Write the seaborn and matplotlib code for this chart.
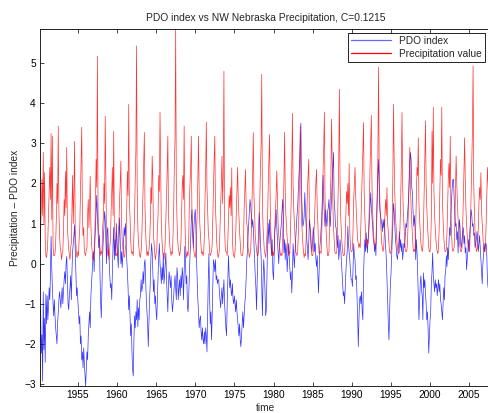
import numpy as np
import pandas as pd
import matplotlib
matplotlib.use("Agg")
import matplotlib.pyplot as plt
from matplotlib.lines import Line2D
import seaborn as sns

# monthly series, first row is 1950 (Mar-Dec), then one row per year up to 2007
start_year = 1950
start_month = 3

pdo_rows = [
    [-1.13, -1.2, -2.23, -1.77, -2.93, -0.7, -2.14, -1.36, -2.46, -0.76],
    [-1.5, -0.8, -1.4, -1.1, -0.6, -0.9, -0.3, 0.68, -0.1, -0.6, -1.0, -1.3],
    [-0.9, -1.3, -1.6, -1.8, -2.0, -1.5, -1.2, -0.9, -0.7, -0.9, -1.1, -0.8],
    [-0.6, -1.0, -0.7, -0.4, -0.2, -0.5, 0.0, 0.18, -0.4, -1.0, -1.15, -0.8],
    [-0.6, -0.3, -0.9, -0.2, 0.3, 0.5, 0.7, 0.97, 0.4, -0.2, -0.8, -0.6],
    [-0.9, -1.2, -1.5, -1.3, -2.0, -1.8, -2.4, -2.2, -2.6, -2.1, -2.5, -2.8],
    [-3.05, -2.6, -2.2, -2.4, -1.8, -1.5, -1.2, -1.6, -0.8, -0.5, -0.2, 0.1],
    [0.3, -0.2, 0.5, 0.9, 1.3, 1.7, 1.2, 0.8, 0.4, 0.7, -0.3, -1.0],
    [-1.35, -0.6, 0.2, 0.6, 0.9, 1.3, 1.1, 0.6, 0.0, 0.8, 0.9, 0.3],
    [0.1, -0.3, -0.6, -0.5, -0.9, -0.2, 0.5, 0.9, 0.1, 0.6, 0.2, 1.0],
    [0.5, 0.2, -0.1, 0.6, 1.14, 0.6, 0.0, 0.3, -0.1, 0.2, 0.5, 0.9],
    [0.7, 1.0, 0.5, 0.1, -0.2, -0.6, -1.15, -0.8, -1.3, -1.8, -1.5, -2.2],
    [-2.65, -2.8, -1.9, -1.3, -1.6, -1.2, -1.4, -0.9, -1.57, -1.1, -1.4, -0.9],
    [-0.8, -0.4, -0.7, -0.6, -0.2, -0.5, 0.0, 0.1, -0.4, -0.9, -1.2, -1.5],
    [-2.07, -1.5, -0.9, -0.5, 0.1, 0.5, 0.3, -0.2, -0.7, -0.4, -1.0, -0.8],
    [-1.2, -1.4, -0.8, -0.3, 0.2, 0.5, 0.0, -0.2, -0.5, -0.1, -0.4, 0.27],
    [-0.5, -0.3, 0.0, 0.27, -0.4, -0.8, -1.2, -0.5, -0.2, -0.4, -0.6, -0.3],
    [-0.9, -1.2, -1.0, -0.8, -0.5, -0.3, -0.6, -0.9, -0.1, -0.3, -0.9, -0.6],
    [-0.4, -0.8, -0.3, -0.6, -0.1, -0.3, -0.9, -0.2, 0.43, 0.1, -0.5, -0.3],
    [-1.07, -1.2, -0.8, -0.3, 0.2, 0.6, 1.1, 1.35, 0.8, 0.4, 0.9, 1.2],
    [1.35, 0.9, 0.1, -0.4, -0.9, -1.2, -1.6, -1.4, -1.3, -1.7, -1.9, -1.6],
    [-1.9, -2.0, -1.7, -2.0, -1.6, -1.8, -2.2, -1.3, -0.4, 0.25, -0.8, -1.5],
    [-1.2, -1.9, -1.3, -0.5, 0.1, 0.0, -0.2, 0.1, -0.4, -0.3, -0.5, -0.4],
    [-0.4, -0.7, -0.9, -1.1, -0.8, -0.6, -1.0, -0.7, -0.4, -1.0, -1.3, -1.6],
    [-1.8, -1.0, -0.4, 0.2, -0.3, -0.6, -0.4, -0.7, -0.8, -0.5, -0.9, -1.0],
    [-0.8, -1.0, -1.2, -0.9, -1.2, -1.4, -1.6, -1.8, -1.5, -1.9, -2.07, -1.8],
    [-1.5, -1.2, -1.6, -1.3, -1.0, -0.8, -0.4, 0.1, 0.3, 0.7, 1.0, 1.3],
    [1.6, 1.45, 1.2, 0.9, 1.1, 0.93, 0.5, 0.1, -0.3, -0.6, -1.15, -0.4],
    [0.3, 0.8, 1.27, 1.0, 0.5, 0.2, -0.5, -1.3, -0.4, 0.1, -0.2, -0.7],
    [-1.3, -1.15, -0.3, 0.6, 1.0, 0.5, 1.1, 0.7, 0.5, 0.2, 0.6, -0.2],
    [-0.4, 0.2, 0.8, 1.0, 1.35, 0.93, 0.6, 0.3, 0.0, 0.4, 0.6, 0.8],
    [1.0, 1.3, 1.6, 1.2, 0.27, 0.6, 0.1, 0.5, 0.3, -0.2, 0.2, 0.5],
    [0.2, -0.1, -0.4, -0.2, -0.73, -0.3, 0.5, 0.2, -0.1, 0.3, 0.6, 0.9],
    [1.2, 1.4, 1.8, 2.2, 2.5, 3.0, 3.5, 1.77, 1.3, 0.93, 1.0, 1.2],
    [1.77, 1.3, 0.93, 0.6, 0.4, 0.1, 0.5, 1.1, 0.9, 0.77, 0.4, 0.3],
    [0.6, 0.9, 0.7, 0.3, 0.5, 0.1, -0.07, 0.2, -0.3, -0.73, -0.2, 0.4],
    [0.6, 0.9, 1.18, 1.7, 2.2, 1.6, 1.2, 0.93, 1.35, 1.1, 0.93, 1.3],
    [1.4, 1.6, 1.2, 0.93, 1.3, 1.6, 2.1, 2.4, 2.77, 1.6, 1.35, 0.93],
    [0.9, 0.6, 0.4, 0.7, 0.1, 0.3, 0.6, 0.4, 0.1, -0.2, -0.5, -0.8],
    [-0.7, -1.0, -0.6, -0.2, 0.1, 0.3, 0.93, 0.5, 0.27, 0.1, -0.2, -0.4],
    [-0.4, -0.57, -0.1, 0.5, 0.2, 0.1, -0.4, -0.3, -0.8, -1.3, -2.07, -1.4],
    [-0.9, -0.8, -1.0, -0.7, -1.2, -1.4, -0.3, 0.2, 0.6, 0.3, 0.77, 0.5],
    [0.27, 0.6, 0.77, 1.1, 1.4, 1.77, 1.4, 1.18, 0.93, 0.6, 0.5, 0.3],
    [0.5, 0.2, 0.9, 1.5, 2.2, 2.6, 1.9, 1.35, 1.2, 1.1, 1.0, 0.8],
    [1.1, 0.9, 1.1, 0.7, 0.4, 0.1, -0.4, -0.9, -1.5, -1.9, -1.2, -0.6],
    [-0.3, 0.1, 0.6, 1.0, 1.5, 1.3, 0.93, 0.6, 0.43, 0.2, 0.1, 0.3],
    [0.5, 0.8, 0.4, 0.6, 0.3, 0.5, 0.1, 0.3, 0.5, 0.4, 0.7, 1.0],
    [0.9, 1.1, 1.35, 1.6, 2.0, 2.5, 2.77, 2.6, 1.9, 1.77, 1.3, 0.93],
    [1.2, 0.93, 0.1, 0.6, 0.3, -0.2, -0.8, -1.4, -0.9, -0.5, -0.3, -0.65],
    [-0.8, -1.4, -0.23, -0.6, -0.4, -0.73, -1.0, -1.4, -1.2, -1.6, -2.23, -1.8],
    [-1.4, -1.2, -0.5, -0.2, 0.27, -0.3, -0.5, -0.7, -0.4, -0.6, -0.5, -0.8],
    [-0.6, -0.4, -0.7, -0.5, -0.9, -1.0, -1.2, -1.4, -1.0, -0.6, -0.9, -0.3],
    [-0.2, 0.2, -0.07, 0.4, 0.1, 0.5, 0.9, 0.7, 1.2, 1.6, 1.9, 2.1],
    [2.1, 1.6, 1.27, 0.93, 1.0, 0.6, 0.8, 0.27, 0.7, 1.1, 0.9, 0.5],
    [0.4, 0.6, 0.77, 0.9, 0.5, 0.7, 0.27, 0.4, -0.15, 0.1, 0.3, 0.6],
    [0.3, 0.8, 1.1, 1.35, 1.2, 0.93, 1.0, 0.7, 0.77, 0.4, 0.5, 0.6],
    [0.8, 0.6, 0.3, 0.5, 0.7, 0.4, 0.1, -0.25, -0.5, 0.0, 0.2, 0.5],
    [0.3, 0.5, 0.5, 0.2, -0.4, -0.6, -0.3, -1.0, -0.8, -1.2, -1.0, -0.9],
]

precip_rows = [
    [0.55, 0.9, 1.4, 2.1, 1.2, 2.78, 1.0, 2.27, 0.6, 0.2],
    [0.15, 0.3, 0.6, 1.2, 1.9, 2.4, 1.6, 3.25, 1.1, 3.18, 0.45, 0.2],
    [0.2, 0.25, 0.5, 1.1, 2.0, 1.5, 3.43, 1.3, 0.7, 0.4, 0.3, 0.1],
    [0.25, 0.3, 0.8, 1.6, 1.2, 2.3, 1.4, 2.9, 0.9, 0.6, 0.35, 0.2],
    [0.1, 0.4, 0.5, 1.4, 2.2, 1.0, 1.8, 3.05, 0.8, 0.5, 0.2, 0.15],
    [0.3, 0.2, 0.6, 0.9, 1.7, 2.4, 3.4, 1.2, 0.7, 0.9, 0.3, 0.25],
    [0.2, 0.35, 0.4, 1.2, 1.6, 0.9, 1.4, 2.18, 1.0, 0.5, 0.3, 0.1],
    [0.15, 0.3, 0.7, 1.5, 2.6, 1.9, 5.17, 1.3, 0.8, 0.6, 0.4, 0.2],
    [0.3, 0.25, 0.9, 1.1, 2.0, 1.5, 3.68, 2.2, 0.6, 0.5, 0.2, 0.35],
    [0.1, 0.4, 0.6, 1.3, 1.8, 2.4, 1.2, 3.3, 0.9, 0.7, 0.3, 0.2],
    [0.25, 0.2, 0.8, 1.0, 1.6, 2.0, 2.56, 1.1, 0.6, 0.4, 0.3, 0.15],
    [0.2, 0.4, 0.5, 1.4, 2.3, 1.7, 3.97, 1.5, 1.2, 0.6, 0.3, 0.25],
    [0.3, 0.2, 0.7, 1.2, 2.1, 2.8, 5.43, 1.9, 0.9, 0.5, 0.35, 0.2],
    [0.15, 0.3, 0.6, 1.3, 1.8, 2.5, 3.27, 1.4, 0.8, 0.4, 0.2, 0.3],
    [0.2, 0.35, 0.5, 1.0, 1.9, 1.5, 2.68, 2.1, 0.7, 0.5, 0.25, 0.1],
    [0.25, 0.3, 0.9, 1.2, 2.2, 1.8, 3.78, 2.4, 1.0, 0.6, 0.3, 0.2],
    [0.1, 0.2, 0.6, 1.1, 1.7, 2.3, 3.18, 1.2, 0.8, 0.45, 0.3, 0.2],
    [0.3, 0.25, 0.7, 1.4, 2.5, 3.1, 5.85, 2.0, 1.1, 0.6, 0.4, 0.3],
    [0.2, 0.3, 0.5, 1.2, 1.9, 2.2, 1.6, 3.43, 1.3, 0.5, 0.25, 0.15],
    [0.3, 0.2, 0.6, 1.5, 2.0, 2.4, 3.18, 1.1, 0.9, 0.5, 0.3, 0.2],
    [0.15, 0.3, 0.8, 1.3, 2.1, 3.18, 1.8, 1.0, 0.7, 0.4, 0.25, 0.3],
    [0.2, 0.25, 0.7, 1.6, 2.3, 3.53, 1.9, 1.3, 0.8, 0.6, 0.3, 0.2],
    [0.25, 0.3, 0.5, 1.2, 1.8, 2.6, 3.18, 1.4, 1.0, 0.5, 0.3, 0.15],
    [0.2, 0.35, 0.9, 1.4, 2.0, 2.68, 1.5, 2.2, 4.8, 0.9, 0.4, 0.3],
    [0.3, 0.2, 0.6, 1.1, 1.7, 1.4, 1.9, 1.2, 2.39, 0.6, 0.3, 0.2],
    [0.15, 0.3, 0.7, 1.3, 1.9, 2.4, 1.6, 1.2, 0.8, 0.5, 0.25, 0.2],
    [0.2, 0.25, 0.5, 1.4, 1.8, 2.35, 1.5, 1.0, 0.9, 0.4, 0.3, 0.15],
    [0.25, 0.3, 0.8, 1.5, 2.2, 3.27, 1.7, 1.3, 0.7, 0.5, 0.35, 0.2],
    [0.2, 0.3, 0.6, 1.6, 2.4, 3.0, 4.72, 1.5, 0.9, 0.6, 0.3, 0.25],
    [0.15, 0.35, 0.7, 1.2, 2.0, 2.6, 3.22, 1.4, 0.8, 0.5, 0.2, 0.3],
    [0.2, 0.3, 0.9, 1.3, 1.7, 2.31, 1.6, 1.0, 0.7, 0.5, 0.3, 0.2],
    [0.25, 0.2, 0.6, 1.4, 2.1, 3.28, 1.8, 1.2, 0.9, 0.6, 0.35, 0.2],
    [0.3, 0.25, 0.8, 1.5, 2.4, 3.75, 2.0, 1.4, 1.0, 0.7, 0.3, 0.25],
    [0.2, 0.3, 0.7, 1.3, 2.2, 3.43, 1.9, 1.1, 0.8, 0.5, 0.3, 0.15],
    [0.25, 0.2, 0.6, 1.2, 1.8, 2.2, 2.6, 1.3, 0.9, 0.6, 0.3, 0.2],
    [0.2, 0.3, 0.8, 1.1, 1.7, 2.0, 2.35, 1.4, 1.0, 0.5, 0.25, 0.3],
    [0.3, 0.25, 0.7, 1.5, 2.3, 2.9, 3.78, 1.6, 1.1, 0.7, 0.4, 0.2],
    [0.2, 0.3, 0.9, 1.4, 2.2, 3.6, 2.5, 1.5, 0.9, 0.6, 0.3, 0.25],
    [0.25, 0.3, 0.8, 1.6, 2.5, 4.35, 2.1, 1.2, 0.8, 0.5, 0.3, 0.2],
    [0.2, 0.25, 0.7, 1.3, 1.8, 1.5, 2.0, 1.2, 2.5, 0.8, 0.4, 0.3],
    [0.3, 0.35, 0.9, 1.6, 2.0, 2.4, 1.7, 1.3, 0.9, 0.6, 0.5, 0.4],
    [0.5, 0.4, 1.0, 1.6, 2.3, 2.8, 3.52, 1.8, 1.2, 0.8, 0.5, 0.4],
    [0.6, 0.5, 0.9, 1.5, 2.4, 3.0, 3.7, 1.9, 1.3, 0.9, 0.6, 0.5],
    [0.4, 0.5, 1.1, 1.8, 2.6, 4.9, 2.5, 1.6, 1.1, 0.8, 0.5, 0.4],
    [0.3, 0.4, 0.8, 1.3, 1.6, 1.2, 1.9, 1.0, 0.8, 0.5, 0.3, 0.25],
    [0.3, 0.4, 1.0, 2.2, 3.97, 2.6, 1.7, 1.2, 0.9, 0.6, 0.4, 0.3],
    [0.25, 0.3, 0.9, 1.6, 2.5, 3.77, 2.0, 1.3, 1.0, 0.6, 0.35, 0.3],
    [0.3, 0.4, 0.8, 1.5, 2.1, 2.9, 1.9, 1.4, 1.0, 0.7, 0.4, 0.3],
    [0.35, 0.3, 0.9, 1.7, 2.4, 2.2, 3.14, 1.5, 1.1, 0.8, 0.5, 0.4],
    [0.3, 0.4, 1.0, 1.8, 2.6, 3.56, 2.0, 1.4, 1.0, 0.7, 0.4, 0.3],
    [0.3, 0.5, 1.2, 3.3, 2.0, 3.9, 1.8, 1.2, 0.9, 0.6, 0.4, 0.3],
    [0.25, 0.4, 0.9, 1.7, 2.6, 2.2, 3.9, 1.6, 1.1, 0.7, 0.45, 0.3],
    [0.3, 0.35, 0.8, 1.5, 2.1, 2.5, 1.9, 3.18, 1.2, 0.8, 0.4, 0.3],
    [0.35, 0.4, 1.0, 1.9, 2.68, 2.0, 1.5, 1.1, 0.9, 0.6, 0.4, 0.3],
    [0.3, 0.4, 0.9, 1.6, 2.3, 3.14, 2.1, 1.4, 1.0, 0.7, 0.5, 0.35],
    [0.3, 0.45, 1.0, 1.8, 2.7, 3.3, 4.93, 2.0, 1.3, 0.8, 0.5, 0.3],
    [0.35, 0.4, 0.9, 1.5, 1.9, 1.6, 2.27, 1.3, 1.0, 0.7, 0.4, 0.3],
    [0.3, 0.5, 1.0, 1.7, 2.4, 2.0, 1.5, 1.2, 0.9, 0.6, 0.4, 0.3],
]

year_ticks = list(range(1955, 2006, 5))
value_ticks = list(range(-3, 6))

pdo = np.concatenate([np.array(r, dtype=float) for r in pdo_rows])
precip = np.concatenate([np.array(r, dtype=float) for r in precip_rows])
t = start_year + (start_month - 1) / 12 + np.arange(len(pdo)) / 12

df = pd.DataFrame({"time": t, "pdo": pdo, "precip": precip})

sns.set_style("ticks")
plt.rcParams["font.family"] = ["Liberation Sans", "DejaVu Sans"]

fig = plt.figure(figsize=(4.88, 4.13), dpi=100)
ax = fig.add_axes([40 / 488, 1 - 386 / 413, 452 / 488, 357 / 413])

blue = "#0000ff"
red = "#ff0000"
sns.lineplot(data=df, x="time", y="pdo", color=blue, lw=0.5, alpha=0.8,
             estimator=None, sort=False, ax=ax)
sns.lineplot(data=df, x="time", y="precip", color=red, lw=0.5, alpha=0.8,
             estimator=None, sort=False, ax=ax)

ax.set_xlim(t[0], t[-1])
ax.set_ylim(min(pdo.min(), precip.min()), max(pdo.max(), precip.max()))
ax.set_xticks(year_ticks)
ax.set_yticks(value_ticks)
ax.tick_params(direction="in", top=True, right=True, length=3, width=0.5,
               labelsize=7.3, colors="black", pad=3)
for s in ax.spines.values():
    s.set_linewidth(0.6)
    s.set_color("black")

ax.set_title("PDO index vs NW Nebraska Precipitation, C=0.1215", fontsize=7.4, pad=6)
ax.set_xlabel("time", fontsize=7.3, labelpad=2)
ax.set_ylabel("Precipitation \u2013 PDO index", fontsize=7.3, labelpad=3)

handles = [Line2D([], [], color=blue, lw=0.9, alpha=0.6),
           Line2D([], [], color=red, lw=0.9)]
leg = ax.legend(handles, ["PDO index", "Precipitation value"],
                loc="upper right", bbox_to_anchor=(485 / 488, 1 - 33 / 413),
                bbox_transform=fig.transFigure, borderaxespad=0, fontsize=7.3,
                fancybox=False, framealpha=1, edgecolor="black",
                handlelength=4.0, borderpad=0.3, labelspacing=0.25)
leg.get_frame().set_linewidth(0.6)

fig.savefig("out.png", dpi=100)
